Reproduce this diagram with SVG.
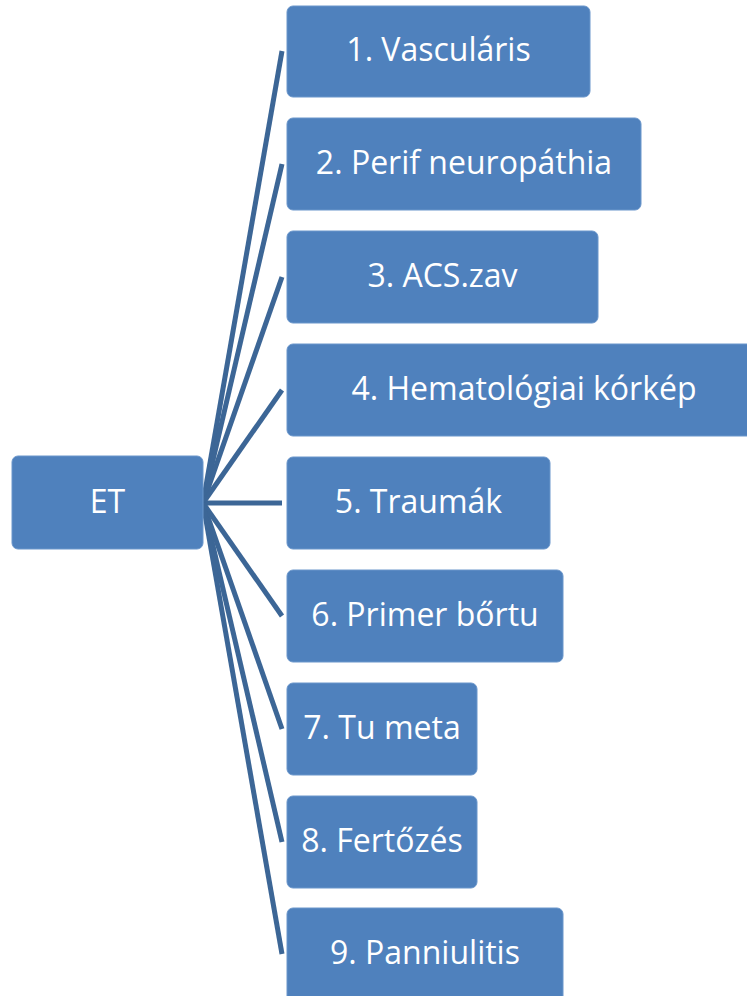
<svg xmlns="http://www.w3.org/2000/svg" width="747" height="996" viewBox="0 0 747 996">
<style>
.box{fill:#4F81BD;stroke:#6A96CB;stroke-width:1}
.lbl{fill:#FFFFFF;font-family:"Open Sans","Liberation Sans",Arial,sans-serif;font-size:32px;text-anchor:middle}
.con{stroke:#3C6696;stroke-width:5;fill:none}
</style>
<rect width="747" height="996" fill="#FFFFFF"/>
<g id="connectors">
<line class="con" x1="203" y1="503" x2="282" y2="51"/>
<line class="con" x1="203" y1="503" x2="282" y2="164"/>
<line class="con" x1="203" y1="503" x2="282" y2="277"/>
<line class="con" x1="203" y1="503" x2="282" y2="390"/>
<line class="con" x1="203" y1="503" x2="282" y2="503"/>
<line class="con" x1="203" y1="503" x2="282" y2="616"/>
<line class="con" x1="203" y1="503" x2="282" y2="729"/>
<line class="con" x1="203" y1="503" x2="282" y2="842"/>
<line class="con" x1="203" y1="503" x2="282" y2="954"/>
</g>
<g id="et"><rect class="box" x="12" y="456" width="191" height="93" rx="6"/><text class="lbl" x="107.5" y="513">ET</text></g>
<g id="n1"><rect class="box" x="287" y="6" width="303" height="91" rx="6"/><text class="lbl" x="438.5" y="61">1. Vasculáris</text></g>
<g id="n2"><rect class="box" x="287" y="118" width="354" height="92" rx="6"/><text class="lbl" x="464" y="174">2. Perif neuropáthia</text></g>
<g id="n3"><rect class="box" x="287" y="231" width="311" height="92" rx="6"/><text class="lbl" x="442.5" y="287">3. ACS.zav</text></g>
<g id="n4"><rect class="box" x="287" y="344" width="474" height="92" rx="6"/><text class="lbl" x="524" y="400">4. Hematológiai kórkép</text></g>
<g id="n5"><rect class="box" x="287" y="457" width="263" height="92" rx="6"/><text class="lbl" x="418.5" y="513">5. Traumák</text></g>
<g id="n6"><rect class="box" x="287" y="570" width="276" height="92" rx="6"/><text class="lbl" x="425" y="626">6. Primer bőrtu</text></g>
<g id="n7"><rect class="box" x="287" y="683" width="190" height="92" rx="6"/><text class="lbl" x="382" y="739">7. Tu meta</text></g>
<g id="n8"><rect class="box" x="287" y="796" width="190" height="92" rx="6"/><text class="lbl" x="382" y="852">8. Fertőzés</text></g>
<g id="n9"><rect class="box" x="287" y="908" width="276" height="100" rx="6"/><text class="lbl" x="425" y="964">9. Panniulitis</text></g>
</svg>
